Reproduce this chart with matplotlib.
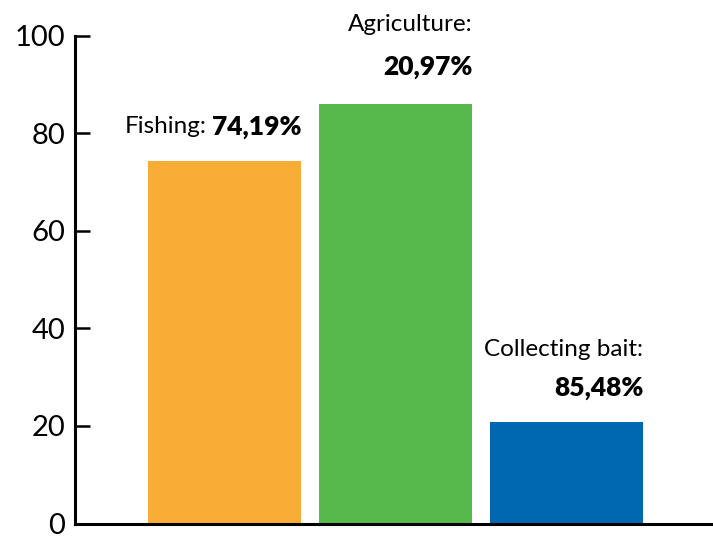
import matplotlib
matplotlib.use('agg')
import matplotlib.pyplot as plt

categories = ['Fishing', 'Agriculture', 'Collecting bait']
values = [74.19, 86.0, 20.8]
label_names = ['Fishing:', 'Agriculture:', 'Collecting bait:']
label_pcts = ['74,19%', '20,97%', '85,48%']
colors = ['#F9AD36', '#57B94B', '#0067B1']
yticks = [0, 20, 40, 60, 80, 100]

plt.rcParams['font.family'] = ['Lato', 'DejaVu Sans']

fig = plt.figure(figsize=(7.13, 5.36), dpi=100)
ax = fig.add_axes([75 / 713, 12.5 / 536, 638 / 713, 488 / 536])

x = range(len(categories))
ax.bar(x, values, width=0.9, color=colors)

ax.set_xlim(-0.874, 2.857)
ax.set_ylim(0, 100)
ax.set_yticks(yticks)
ax.set_xticks([])
ax.tick_params(axis='y', direction='in', length=11, width=1.8, labelsize=21, pad=7)
for side in ['top', 'right']:
    ax.spines[side].set_visible(False)
ax.spines['left'].set_linewidth(2.2)
ax.spines['bottom'].set_linewidth(2.2)

fs = 17.5
fsb = 19
# Fishing: name and value on one line
t = ax.text(0.45, 81.3, label_pcts[0], ha='right', va='center', fontsize=fsb,
            fontweight='heavy')
fig.canvas.draw()
r = fig.canvas.get_renderer()
bb = t.get_window_extent(renderer=r)
xr = ax.transData.inverted().transform((bb.x0 - 5, bb.y0))[0]
ax.text(xr, 81.3, label_names[0], ha='right', va='center', fontsize=fs)

# two-line labels for the others
ax.text(1.45, 102.3, label_names[1], ha='right', va='center', fontsize=fs, clip_on=False)
ax.text(1.45, 93.6, label_pcts[1], ha='right', va='center', fontsize=fsb, fontweight='heavy')
ax.text(2.45, 35.6, label_names[2], ha='right', va='center', fontsize=fs)
ax.text(2.45, 27.7, label_pcts[2], ha='right', va='center', fontsize=fsb, fontweight='heavy')

fig.savefig('out.png', dpi=100)
